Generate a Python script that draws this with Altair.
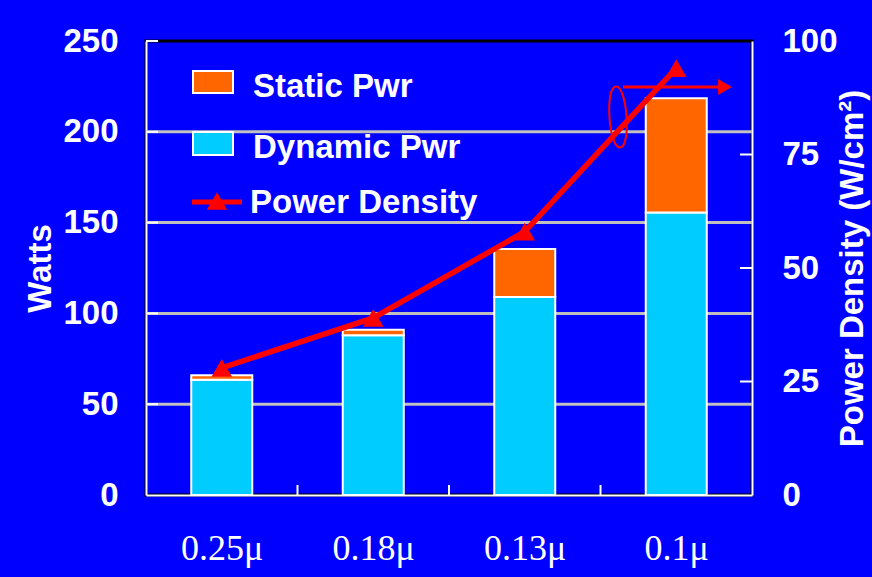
import altair as alt
import pandas as pd

# ---------------- data ----------------
nodes = ["0.25μ", "0.18μ", "0.13μ", "0.1μ"]
dynamic_pwr = [63.5, 88.0, 109.0, 155.5]
static_pwr = [2.5, 3.0, 26.5, 63.0]
power_density = [28, 39, 58, 94]

series_names = ["Static Pwr", "Dynamic Pwr", "Power Density"]
watts_ticks = [0, 50, 100, 150, 200, 250]
grid_values = [50, 100, 150, 200]
density_ticks = [0, 25, 50, 75, 100]
node_index = list(range(len(nodes)))
node_boundaries = [i + 0.5 for i in node_index[:-1]]

# ---------------- style ----------------
BLUE = "#0000FF"
CYAN = "#00CCFF"
ORANGE = "#FF6600"
RED = "#FF0000"
GRID = "#C0C0C0"
SANS = "Liberation Sans"
SERIF = "Liberation Serif"
FS = 33
W, H = 606, 454

bars_df = pd.DataFrame({
    "idx": node_index * 2,
    "node": nodes * 2,
    "component": ["Dynamic Pwr"] * 4 + ["Static Pwr"] * 4,
    "ord": [0] * 4 + [1] * 4,
    "watts": dynamic_pwr + static_pwr,
})
line_df = pd.DataFrame({"idx": node_index, "node": nodes, "density": power_density})
grid_df = pd.DataFrame({"v": grid_values})
lt_df = pd.DataFrame({"v": watts_ticks[1:]})
rt_df = pd.DataFrame({"v": density_ticks[1:-1]})
xt_df = pd.DataFrame({"idx": node_boundaries})
one = pd.DataFrame({"a": [0]})

label_expr = "[" + ",".join("'%s'" % n for n in nodes) + "][datum.value]"
x_scale = alt.Scale(domain=[-0.5, len(nodes) - 0.5], nice=False, zero=False, padding=0)
x_axis = alt.Axis(title=None, values=node_index, labelExpr=label_expr,
                  labelAngle=0, labelAlign="center", labelFont=SERIF,
                  labelFontSize=36, labelFontWeight="normal", labelColor="white",
                  labelBaseline="alphabetic", labelPadding=64, labelFlush=False,
                  labelOverlap=False, ticks=False, domainColor="white",
                  domainWidth=2, grid=False)
x_enc = alt.X("idx:Q", scale=x_scale, axis=x_axis)
left_scale = alt.Scale(domain=[0, 250], nice=False, zero=True)
right_scale = alt.Scale(domain=[0, 100], nice=False, zero=True)

grid = alt.Chart(grid_df).mark_rule(color=GRID, strokeWidth=3).encode(
    y=alt.Y("v:Q", scale=left_scale, axis=None)
)
left_ticks = alt.Chart(lt_df).mark_rule(color="white", strokeWidth=2).encode(
    y=alt.Y("v:Q", scale=left_scale, axis=None),
    x=alt.value(0), x2=alt.value(12),
)
x_ticks = alt.Chart(xt_df).mark_rule(color="white", strokeWidth=2).encode(
    x=x_enc,
    y=alt.value(H - 10), y2=alt.value(H),
)
bars = alt.Chart(bars_df).mark_bar(size=61, stroke="white", strokeWidth=2).encode(
    x=x_enc,
    y=alt.Y("watts:Q", stack="zero", scale=left_scale,
            axis=alt.Axis(orient="left", values=watts_ticks, title="Watts",
                          titleFont=SANS, titleFontSize=FS, titleFontWeight="bold",
                          titleColor="white", titleAngle=270, titleAlign="center",
                          titleBaseline="alphabetic", titleX=-96, titleY=227,
                          labelFont=SANS, labelFontSize=FS, labelFontWeight="bold",
                          labelColor="white", labelPadding=28, labelFlush=False,
                          labelOverlap=False, ticks=False, grid=False,
                          domainColor="white", domainWidth=2)),
    color=alt.Color("component:N",
                    scale=alt.Scale(domain=series_names[:2], range=[ORANGE, CYAN]),
                    legend=None),
    order=alt.Order("ord:Q", sort="ascending"),
)

line = alt.Chart(line_df).mark_line(color=RED, strokeWidth=5.5).encode(
    x=x_enc,
    y=alt.Y("density:Q", scale=right_scale,
            axis=alt.Axis(orient="right", values=density_ticks,
                          title="Power Density (W/cm²)",
                          titleFont=SANS, titleFontSize=FS, titleFontWeight="bold",
                          titleColor="white", titleAngle=270, titleAlign="center",
                          titleBaseline="alphabetic", titleX=110, titleY=227,
                          labelFont=SANS, labelFontSize=FS, labelFontWeight="bold",
                          labelColor="white", labelPadding=30, labelAlign="left",
                          labelFlush=False, labelOverlap=False, ticks=False,
                          grid=False, domainColor="white", domainWidth=2)),
)
pts = alt.Chart(line_df).mark_point(shape="triangle-up", filled=True, size=420,
                                    color=RED, opacity=1).encode(
    x=x_enc,
    y=alt.Y("density:Q", scale=right_scale, axis=None),
)
right_ticks = alt.Chart(rt_df).mark_rule(color="white", strokeWidth=2).encode(
    y=alt.Y("v:Q", scale=right_scale, axis=None),
    x=alt.value(W - 12), x2=alt.value(W),
)

# annotation: ellipse + arrow pointing to the right axis
ELLIPSE = "M0,-1 C0.373,-1 0.373,1 0,1 C-0.373,1 -0.373,-1 0,-1 Z"
ellipse = alt.Chart(one).mark_point(shape=ELLIPSE, size=3721, filled=False,
                                    stroke=RED, strokeWidth=2, opacity=1,
                                    angle=356).encode(
    x=alt.value(472), y=alt.value(76))
arrow_shaft = alt.Chart(one).mark_rule(color=RED, strokeWidth=3).encode(
    x=alt.value(477), x2=alt.value(574), y=alt.value(46))
arrow_head = alt.Chart(one).mark_point(shape="triangle-right", size=250, filled=True,
                                       color=RED, opacity=1).encode(
    x=alt.value(579), y=alt.value(46))

# manual legend inside the plot
leg_static = alt.Chart(one).mark_rect(fill=ORANGE, stroke="white", strokeWidth=2).encode(
    x=alt.value(47), x2=alt.value(87), y=alt.value(30), y2=alt.value(52))
leg_dyn = alt.Chart(one).mark_rect(fill=CYAN, stroke="white", strokeWidth=2).encode(
    x=alt.value(47), x2=alt.value(87), y=alt.value(91), y2=alt.value(114))
leg_line = alt.Chart(one).mark_rule(color=RED, strokeWidth=5).encode(
    x=alt.value(46), x2=alt.value(96), y=alt.value(161))
leg_tri = alt.Chart(one).mark_point(shape="triangle-up", filled=True, size=420,
                                    color=RED, opacity=1).encode(
    x=alt.value(71), y=alt.value(160))


def leg_text(i, xpos, ypos):
    return alt.Chart(pd.DataFrame({"label": [series_names[i]]})).mark_text(
        align="left", baseline="alphabetic", font=SANS, fontSize=FS,
        fontWeight="bold", color="white").encode(
        text="label:N", x=alt.value(xpos), y=alt.value(ypos))


chart = alt.layer(
    grid, left_ticks, x_ticks, bars,
    line, pts, right_ticks, ellipse, arrow_shaft, arrow_head,
    leg_static, leg_dyn, leg_line, leg_tri,
    leg_text(0, 107, 56), leg_text(1, 107, 117), leg_text(2, 104, 172),
).resolve_scale(y="independent").properties(
    width=W, height=H, background=BLUE,
    padding={"left": 146, "top": 41, "right": 120, "bottom": 82},
    autosize=alt.AutoSizeParams(type="none"),
).configure_view(stroke="black", strokeWidth=3)

chart.save("out.html", embed_options={"renderer": "svg", "actions": False})
